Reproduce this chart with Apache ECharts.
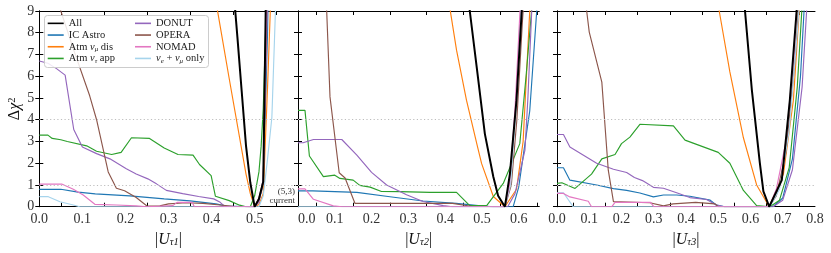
<!DOCTYPE html>
<html>
<head>
<meta charset="utf-8">
<script src="https://cdn.jsdelivr.net/npm/echarts@6/dist/echarts.min.js"></script>
<style>html,body{margin:0;padding:0;background:#fff}#c{width:831px;height:253px}</style>
</head>
<body>
<div id="c"></div>
<script>
// ---------- data: [|U|, delta chi^2] ----------
// Panel 1 : |U_tau1|
const all1   = [[0.44,11.5],[0.45,10.2],[0.46,7.8],[0.47,5.3],[0.48,2.8],[0.49,1.1],[0.5,0],[0.51,0.35],[0.52,1.15],[0.53,15]];
const ic1    = [[0,0.8],[0.05,0.8],[0.09,0.67],[0.13,0.59],[0.21,0.5],[0.29,0.36],[0.35,0.27],[0.41,0.13],[0.435,0.03],[0.5,0],[0.51,0.3],[0.52,1.0],[0.53,8.0],[0.54,20]];
const numu1  = [[0.4,10.6],[0.44,6.0],[0.48,1.5],[0.49,0.6],[0.5,0],[0.51,0.1],[0.52,0.6],[0.53,5.5],[0.54,11]];
const nutau1 = [[0,3.29],[0.02,3.29],[0.03,3.14],[0.05,3.08],[0.065,3.0],[0.11,2.8],[0.133,2.55],[0.168,2.4],[0.19,2.5],[0.214,3.17],[0.256,3.14],[0.29,2.7],[0.322,2.4],[0.357,2.37],[0.372,1.94],[0.399,1.43],[0.409,0.48],[0.441,0.28],[0.465,0.07],[0.48,0],[0.49,0],[0.5,0.5],[0.51,1.6],[0.515,2.75],[0.52,4.5],[0.53,11]];
const donut1 = [[0,6.7],[0.02,6.6],[0.04,6.35],[0.06,6.05],[0.08,3.55],[0.1,2.75],[0.133,2.44],[0.164,2.2],[0.202,1.74],[0.225,1.5],[0.252,1.28],[0.272,1.05],[0.295,0.75],[0.333,0.6],[0.37,0.47],[0.405,0.36],[0.42,0.2],[0.43,0.02],[0.5,0],[0.51,0.2],[0.52,1.3],[0.53,10]];
const opera1 = [[0.03,10.2],[0.08,7.2],[0.117,5.1],[0.133,4.0],[0.16,1.6],[0.179,0.85],[0.198,0.73],[0.225,0.42],[0.25,0.03],[0.28,0.04],[0.3,0.13],[0.34,0.18],[0.38,0.15],[0.42,0.08],[0.45,0.02],[0.5,0],[0.51,0.4],[0.52,1.2],[0.53,11]];
const nomad1 = [[0,1.04],[0.052,1.04],[0.079,0.8],[0.102,0.54],[0.129,0.11],[0.179,0.08],[0.225,0.04],[0.25,0],[0.31,0.05],[0.32,0.2],[0.355,0.2],[0.36,0],[0.5,0],[0.51,0.3],[0.52,1.1],[0.53,11]];
const nuem1  = [[0,0.46],[0.021,0.46],[0.048,0.23],[0.079,0.08],[0.094,0],[0.51,0],[0.52,0.5],[0.53,2.2],[0.54,4.1],[0.55,10]];
// Panel 2 : |U_tau2|
const all2   = [[0.45,11.5],[0.467,9.0],[0.486,6.4],[0.508,3.35],[0.531,1.38],[0.544,0.5],[0.5625,0],[0.576,1.5],[0.594,4.9],[0.61,9.5]];
const ic2    = [[0,0.73],[0.04,0.73],[0.16,0.66],[0.25,0.46],[0.34,0.26],[0.43,0.15],[0.49,0.05],[0.53,0],[0.585,0],[0.6,0.9],[0.621,3.36],[0.63,4.4],[0.649,9],[0.66,11]];
const numu2  = [[0.4,10.5],[0.431,7.2],[0.458,4.9],[0.486,2.9],[0.499,1.99],[0.531,0.47],[0.5625,0],[0.594,0.8],[0.612,3.0],[0.63,9],[0.64,12]];
const nutau2 = [[0,4.43],[0.019,4.43],[0.031,2.33],[0.069,1.38],[0.1,1.45],[0.114,1.3],[0.15,1.22],[0.168,0.98],[0.196,0.9],[0.227,0.7],[0.277,0.69],[0.359,0.66],[0.431,0.66],[0.467,0.05],[0.513,0.05],[0.558,1.07],[0.603,2.9],[0.62,6],[0.635,9],[0.645,11]];
const donut2 = [[0,2.94],[0.014,2.94],[0.042,3.09],[0.119,3.09],[0.16,2.37],[0.2,1.58],[0.241,1.0],[0.295,0.55],[0.34,0.24],[0.395,0.05],[0.42,0],[0.57,0],[0.59,0.6],[0.617,2.6],[0.625,5],[0.638,10]];
const opera2 = [[0.07,11],[0.078,9],[0.087,5.05],[0.112,1.56],[0.128,1.32],[0.155,0.15],[0.16,0.15],[0.42,0.15],[0.47,0.02],[0.5625,0],[0.58,1.0],[0.595,4.0],[0.61,8.5],[0.62,11]];
const nomad2 = [[0,0.82],[0.019,0.82],[0.042,0.34],[0.096,0.04],[0.12,0],[0.5625,0],[0.575,1.0],[0.59,4.5],[0.605,9.5]];
const nuem2  = [[0,0],[0.5625,0],[0.578,1.0],[0.592,4.5],[0.607,9.5]];
// Panel 3 : |U_tau3|
const all3   = [[0.57,11],[0.583,9],[0.604,5.4],[0.629,2.0],[0.64,0.7],[0.658,0],[0.697,1.22],[0.722,4.9],[0.743,9],[0.75,11]];
const ic3    = [[0,1.79],[0.02,1.79],[0.04,1.22],[0.123,1.0],[0.175,0.83],[0.216,0.75],[0.257,0.63],[0.299,0.45],[0.33,0.54],[0.371,0.54],[0.412,0.48],[0.475,0.3],[0.495,0.07],[0.52,0],[0.67,0],[0.7,0.4],[0.73,2.2],[0.755,6],[0.766,9],[0.78,12]];
const numu3  = [[0.49,11],[0.503,9],[0.536,6.2],[0.578,3.17],[0.619,1.0],[0.658,0],[0.702,1.5],[0.733,4.9],[0.751,9],[0.76,11]];
const nutau3 = [[0,1.07],[0.015,1.1],[0.056,0.84],[0.107,1.5],[0.139,2.2],[0.18,2.4],[0.2,2.9],[0.226,3.2],[0.257,3.79],[0.361,3.72],[0.397,3.06],[0.5,2.5],[0.536,2.0],[0.578,0.75],[0.619,0.05],[0.66,0],[0.69,0.3],[0.72,1.8],[0.745,5.5],[0.759,9],[0.77,12]];
const donut3 = [[0,3.32],[0.02,3.32],[0.04,2.75],[0.123,2.0],[0.175,1.72],[0.216,1.57],[0.24,1.34],[0.265,1.2],[0.299,0.89],[0.33,0.85],[0.371,0.64],[0.412,0.42],[0.464,0.33],[0.495,0.07],[0.52,0],[0.67,0],[0.7,0.3],[0.73,1.7],[0.76,5.5],[0.774,9],[0.785,11]];
const opera3 = [[0.085,10],[0.092,9],[0.1,8.03],[0.139,5.73],[0.159,1.68],[0.175,0.23],[0.18,0.2],[0.288,0.18],[0.33,0.04],[0.36,0.13],[0.43,0.2],[0.49,0.13],[0.5,0],[0.658,0],[0.68,0.5],[0.71,2.5],[0.74,7],[0.75,9.5]];
const nomad3 = [[0,0.61],[0.02,0.61],[0.04,0.45],[0.097,0.25],[0.107,0],[0.17,0],[0.18,0.2],[0.29,0.2],[0.3,0],[0.658,0],[0.68,0.8],[0.71,3],[0.735,7],[0.745,9.5]];
const nuem3  = [[0,0.64],[0.02,0.64],[0.05,0],[0.66,0],[0.69,0.8],[0.72,3.5],[0.745,8],[0.755,10]];

const xMaxes = [0.6, 0.656, 0.8];
const refLevels = [1, 4];
const seriesNames = ['All','IC Astro','Atm numu dis','Atm nutau app','DONUT','OPERA','NOMAD','nue numu only'];
const colors = {'All':'#000000','IC Astro':'#1f77b4','Atm numu dis':'#ff7f0e','Atm nutau app':'#2ca02c','DONUT':'#9467bd','OPERA':'#8c564b','NOMAD':'#e377c2','nue numu only':'#a6d4ec'};
const panels = [
  {'IC Astro':ic1,'Atm numu dis':numu1,'Atm nutau app':nutau1,'DONUT':donut1,'OPERA':opera1,'nue numu only':nuem1,'NOMAD':nomad1,'All':all1},
  {'IC Astro':ic2,'Atm numu dis':numu2,'Atm nutau app':nutau2,'DONUT':donut2,'OPERA':opera2,'nue numu only':nuem2,'NOMAD':nomad2,'All':all2},
  {'IC Astro':ic3,'Atm numu dis':numu3,'Atm nutau app':nutau3,'DONUT':donut3,'OPERA':opera3,'nue numu only':nuem3,'NOMAD':nomad3,'All':all3}
];
const axisNames = ['1','2','3'];

// ---------- chart ----------
const SERIF = '"Liberation Serif","DejaVu Serif",serif';
const grids = [
  {left:39.3, top:11, width:258.4, height:195.7},
  {left:298,  top:11, width:241.3, height:195.7},
  {left:557,  top:11, width:258,   height:195.7}
];
const drawOrder = ['IC Astro','Atm numu dis','Atm nutau app','DONUT','OPERA','nue numu only','NOMAD','All'];
const legendLabel = {
  'All':'All','IC Astro':'IC Astro',
  'Atm numu dis':'Atm {g|ν}{s|μ} dis',
  'Atm nutau app':'Atm {g|ν}{s|τ} app',
  'DONUT':'DONUT','OPERA':'OPERA','NOMAD':'NOMAD',
  'nue numu only':'{g|ν}{s|e} + {g|ν}{s|μ} only'
};
const lineCol = '#000';
const xAxes = [], yAxes = [], series = [];
grids.forEach((g, i) => {
  const common = {type:'value', gridIndex:i, min:0, max:xMaxes[i], interval:0.1,
    splitLine:{show:false}, axisLine:{show:true, onZero:false, lineStyle:{color:lineCol, width:1}},
    axisTick:{show:false, inside:true},
    minorTick:{show:true, splitNumber:2, length:4, lineStyle:{color:lineCol, width:1}}};
  xAxes.push(Object.assign({}, common, {position:'bottom',
    name:'|{u|U}{s|τ' + axisNames[i] + '}|', nameLocation:'middle', nameGap:19,
    nameTextStyle:{fontFamily:SERIF, fontSize:16, color:'#111',
      rich:{u:{fontFamily:SERIF, fontStyle:'italic', fontSize:16, color:'#111'},
            s:{fontFamily:SERIF, fontStyle:'italic', fontSize:10.5, color:'#111', verticalAlign:'bottom', lineHeight:10}}},
    axisLabel:{show:true, fontFamily:SERIF, fontSize:14, color:'#333', margin:6,
      showMaxLabel: i === 2, showMinLabel:true, alignMinLabel: i === 1 ? 'left' : 'center',
      formatter: v => v.toFixed(1)}}));
  xAxes.push(Object.assign({}, common, {position:'top', axisLabel:{show:false}}));
  const ycommon = {type:'value', gridIndex:i, min:0, max:9, interval:1, splitLine:{show:false},
    axisLine:{show:true, lineStyle:{color:lineCol, width:1}},
    axisTick:{show:true, inside:true, length:4, lineStyle:{color:lineCol, width:1}}};
  yAxes.push(Object.assign({}, ycommon, {position:'left',
    axisLabel:{show: i === 0, fontFamily:SERIF, fontSize:14, color:'#333', margin:5},
    name: i === 0 ? 'Δ{c|χ}{p|2}' : '', nameLocation:'middle', nameGap:17, nameRotate:90,
    nameTextStyle:{fontFamily:SERIF, fontSize:16, color:'#111',
      rich:{c:{fontFamily:SERIF, fontStyle:'italic', fontSize:16, color:'#111'},
            p:{fontFamily:SERIF, fontSize:10.5, color:'#111', verticalAlign:'top', lineHeight:10}}}}));
  yAxes.push(Object.assign({}, ycommon, {position:'right', axisLabel:{show:false}}));
  drawOrder.forEach(name => {
    const s = {name, type:'line', xAxisIndex:2*i, yAxisIndex:2*i, data:panels[i][name],
      showSymbol:false, symbol:'none', clip:true, animation:false,
      color:colors[name],
      lineStyle:{color:colors[name], width: name === 'All' ? 2 : 1.15},
      z: name === 'All' ? 5 : 2};
    if (name === 'IC Astro') {
      s.markLine = {silent:true, symbol:'none', label:{show:false}, animation:false,
        lineStyle:{type:[1.2,2.4], color:'#bdbdbd', width:1},
        data: refLevels.map(v => ({yAxis:v}))};
    }
    series.push(s);
  });
});

const legRich = {
  g:{fontFamily:SERIF, fontSize:10.5, color:'#222', fontStyle:'italic', lineHeight:11.7},
  s:{fontFamily:SERIF, fontSize:7, color:'#222', fontStyle:'italic', verticalAlign:'bottom', lineHeight:7}
};
function makeLegend(names, left) {
  return {show:true, orient:'vertical', left:left, top:17.5, padding:0, itemGap:0,
    itemWidth:16, itemHeight:1.6, icon:'rect',
    data: names.map(n => ({name:n, icon:'rect'})),
    formatter: n => legendLabel[n],
    textStyle:{fontFamily:SERIF, fontSize:10.5, color:'#222', lineHeight:11.7, rich:legRich},
    selectedMode:false, z:6};
}

const option = {
  animation:false,
  backgroundColor:'#fff',
  grid: grids,
  xAxis: xAxes,
  yAxis: yAxes,
  legend: [makeLegend(seriesNames.slice(0,4), 47.7), makeLegend(seriesNames.slice(4), 135)],
  graphic: [
    {type:'rect', left:44, top:15, shape:{width:164, height:52, r:3}, z:5,
     style:{fill:'rgba(255,255,255,0.85)', stroke:'#cccccc', lineWidth:1}},
    {type:'text', right:831-295, top:187, z:6,
     style:{text:'(5,3)', font:'9px ' + SERIF, fill:'#333', textAlign:'right'}},
    {type:'text', right:831-295, top:196.5, z:6,
     style:{text:'current', font:'9px ' + SERIF, fill:'#333', textAlign:'right'}}
  ],
  series: series
};
const chart = echarts.init(document.getElementById('c'), null, {renderer:'canvas'});
chart.setOption(option);
</script>
</body>
</html>
